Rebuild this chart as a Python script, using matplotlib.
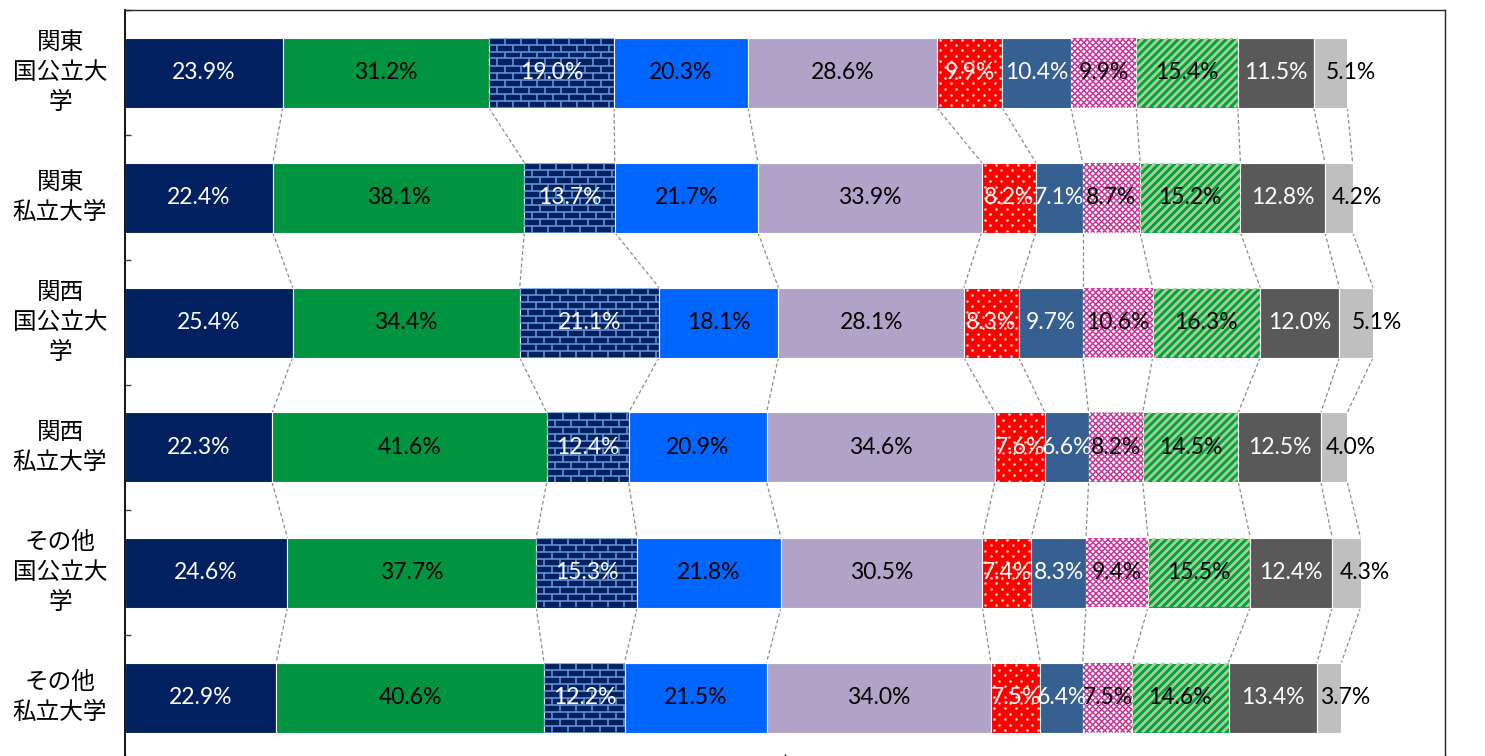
import numpy as np
import matplotlib.pyplot as plt
from matplotlib.collections import LineCollection

plt.rcParams['font.family'] = ['Lato', 'DejaVu Sans']

# row labels, top to bottom
rows = ['関東\n国公立大\n学', '関東\n私立大学', '関西\n国公立大\n学',
        '関西\n私立大学', 'その他\n国公立大\n学', 'その他\n私立大学']

# shares (%) of the 11 items for each group
kanto_public = [23.9, 31.2, 19.0, 20.3, 28.6, 9.9, 10.4, 9.9, 15.4, 11.5, 5.1]
kanto_private = [22.4, 38.1, 13.7, 21.7, 33.9, 8.2, 7.1, 8.7, 15.2, 12.8, 4.2]
kansai_public = [25.4, 34.4, 21.1, 18.1, 28.1, 8.3, 9.7, 10.6, 16.3, 12.0, 5.1]
kansai_private = [22.3, 41.6, 12.4, 20.9, 34.6, 7.6, 6.6, 8.2, 14.5, 12.5, 4.0]
other_public = [24.6, 37.7, 15.3, 21.8, 30.5, 7.4, 8.3, 9.4, 15.5, 12.4, 4.3]
other_private = [22.9, 40.6, 12.2, 21.5, 34.0, 7.5, 6.4, 7.5, 14.6, 13.4, 3.7]

data = np.array([kanto_public, kanto_private, kansai_public,
                 kansai_private, other_public, other_private])

fills = ['#002060', '#009440', '#002060', '#0066FF', '#B3A2C7', '#FF0000',
         '#366092', '#FFFFFF', '#00A04A', '#595959', '#BFBFBF']
text_col = ['white', 'black', 'white', 'black', 'black', 'white',
            'white', 'black', 'black', 'white', 'black']
pattern = [None, None, 'brick', None, None, 'dots', None, 'lattice', 'stripes', None, None]

bar_h = 0.56
# pixel scale of the axes (x: % -> px, y: row -> px)
PX_X = 1320 / 200.0
PX_Y = 750 / 6.0

fig = plt.figure(figsize=(14.85, 7.56), dpi=100)
ax = fig.add_axes([125 / 1485, -4 / 756, 1320 / 1485, 750 / 756])

n_rows, n_seg = data.shape
y = np.arange(n_rows)
left = np.zeros(n_rows)
ends = np.zeros((n_rows, n_seg))


def brick(patch, x0, x1, yc):
    segs = []
    top, bot = yc - bar_h / 2, yc + bar_h / 2
    dy = 7 / PX_Y
    dx = 16 / PX_X
    k = 0
    yy = top
    while yy < bot + dy:
        segs.append([(x0, yy), (x1, yy)])
        off = 0 if k % 2 == 0 else dx / 2
        xx = x0 - dx + off
        while xx < x1 + dx:
            segs.append([(xx, yy), (xx, yy + dy)])
            xx += dx
        yy += dy
        k += 1
    lc = LineCollection(segs, colors='#6A9AE0', linewidths=1.1, zorder=3)
    ax.add_collection(lc)
    lc.set_clip_path(patch)


def dots(patch, x0, x1, yc):
    top, bot = yc - bar_h / 2, yc + bar_h / 2
    dx = 11 / PX_X
    dy = 5.5 / PX_Y
    pts = []
    k = 0
    yy = top + 2 / PX_Y
    while yy < bot:
        off = 0 if k % 2 == 0 else dx / 2
        xx = x0 + 3 / PX_X + off
        while xx < x1:
            pts.append((xx, yy))
            xx += dx
        yy += dy
        k += 1
    pts = np.array(pts)
    sc = ax.scatter(pts[:, 0], pts[:, 1], s=3, c='white', linewidths=0, zorder=3)
    sc.set_clip_path(patch)


def diagonals(patch, x0, x1, yc, period, color, lw, both=False):
    top, bot = yc - bar_h / 2, yc + bar_h / 2
    h_px = bar_h * PX_Y
    shift = h_px / PX_X
    segs = []
    xx = x0 - shift
    while xx < x1 + shift:
        segs.append([(xx, bot), (xx + shift, top)])
        if both:
            segs.append([(xx, top), (xx + shift, bot)])
        xx += period / PX_X
    lc = LineCollection(segs, colors=color, linewidths=lw, zorder=3)
    ax.add_collection(lc)
    lc.set_clip_path(patch)


for j in range(n_seg):
    vals = data[:, j]
    bars = ax.barh(y, vals, left=left, height=bar_h, color=fills[j],
                   edgecolor='white', linewidth=0.8, zorder=2)
    for i, p in enumerate(bars.patches):
        x0, x1 = left[i], left[i] + vals[i]
        if pattern[j] == 'brick':
            brick(p, x0, x1, y[i])
        elif pattern[j] == 'dots':
            dots(p, x0, x1, y[i])
        elif pattern[j] == 'lattice':
            diagonals(p, x0, x1, y[i], 6, '#CC3399', 1.1, both=True)
        elif pattern[j] == 'stripes':
            diagonals(p, x0, x1, y[i], 8, '#A9D18E', 2.0)
        # value label
        if j == n_seg - 1:
            tx = x1 + 0.6
        else:
            tx = (x0 + x1) / 2
        ax.text(tx, y[i], f'{vals[i]:.1f}%', ha='center', va='center',
                fontsize=16.5, color=text_col[j], zorder=5)
    left = left + vals
    ends[:, j] = left

# series lines between neighbouring bars
for i in range(n_rows - 1):
    for j in range(n_seg):
        ax.plot([ends[i, j], ends[i + 1, j]],
                [y[i] + bar_h / 2, y[i + 1] - bar_h / 2],
                color='#8C8C8C', lw=0.9, ls=(0, (3, 2)), zorder=1)

ax.set_xlim(0, 200)
ax.set_ylim(n_rows - 0.5, -0.5)

ax.set_xticks([0, 100, 200])
ax.set_xticklabels([])
ax.tick_params(axis='x', direction='in', length=4.5, width=1, top=False)
ax.set_yticks(np.arange(-0.5, n_rows, 1.0))
ax.set_yticklabels([])
ax.tick_params(axis='y', direction='in', length=4, width=1, color='#404040')

for s in ax.spines.values():
    s.set_color('#262626')
    s.set_linewidth(1)
ax.spines['left'].set_color('black')
ax.spines['left'].set_linewidth(1.3)

for i, name in enumerate(rows):
    ax.text(-65 / 1320, y[i], name, transform=ax.get_yaxis_transform(),
            ha='center', va='center', multialignment='center',
            fontsize=17, linespacing=1.38, family=['Noto Sans CJK JP', 'DejaVu Sans'])

fig.savefig('out.png', dpi=100)
